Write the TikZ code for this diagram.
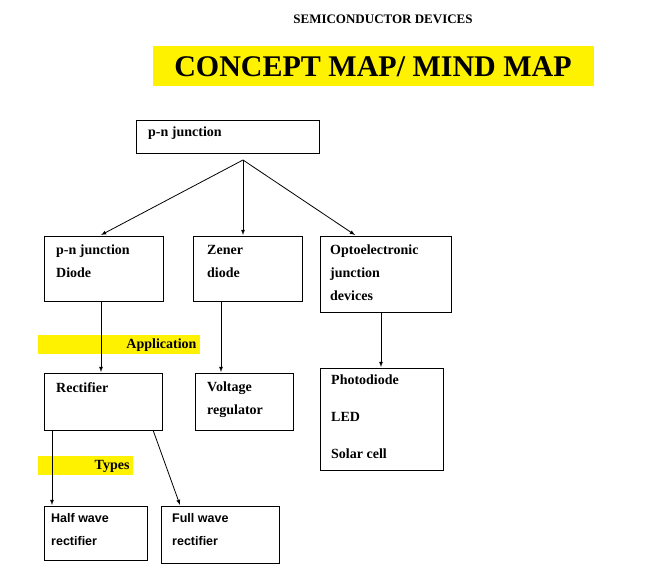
\documentclass[tikz,border=0pt]{standalone}
\usepackage{fontspec}
\setmainfont{Liberation Serif}
\newfontfamily\sansf{Liberation Sans}
\begin{document}
\begin{tikzpicture}[x=1pt,y=-1pt,
 bx/.style={draw,line width=0.8pt},
 tx/.style={anchor=north west,align=left,font=\fontsize{14}{23}\selectfont\bfseries,inner sep=0pt},
 arr/.style={-latex,line width=0.8pt},
 hl/.style={fill=yellow,draw=none}]
\useasboundingbox (0,0) rectangle (665,585);
\node[font=\fontsize{13}{15}\selectfont\bfseries] (t1) at (383,19) {SEMICONDUCTOR DEVICES};
\fill[hl] (153,46) rectangle (594,86);
\node[font=\fontsize{30}{32}\selectfont\bfseries] (t2) at (373,67) {CONCEPT MAP/ MIND MAP};
% boxes
\draw[bx] (136,120) rectangle (319,153);
\node[tx] (pn) at (148,127) {p-n junction};
\coordinate (fork) at (243,160);
\draw[bx] (44,236) rectangle (163,301);
\node[tx] (d) at (56,245) {p-n junction\\Diode};
\draw[bx] (193,236) rectangle (302,301);
\node[tx] (z) at (207,245) {Zener\\diode};
\draw[bx] (320,236) rectangle (451,312);
\node[tx] (o) at (330,245) {Optoelectronic\\junction\\devices};
\coordinate (dT) at (101,235); \coordinate (zT) at (243,235); \coordinate (oT) at (355,235);
\draw[arr] (fork) -- (dT); \draw[arr] (fork) -- (zT); \draw[arr] (fork) -- (oT);
% second row
\fill[hl] (38,335) rectangle (200,354);
\node[font=\fontsize{14}{16}\selectfont\bfseries,anchor=east] (app) at (200,345) {Application};
\draw[bx] (44,373) rectangle (162,430);
\node[tx] (r) at (56,382) {Rectifier};
\draw[bx] (195,373) rectangle (293,430);
\node[tx] (v) at (207,382) {Voltage\\regulator};
\draw[bx] (320,368) rectangle (443,470);
\node[tx,font=\fontsize{14}{37}\selectfont\bfseries] (p) at (331,375) {Photodiode\\LED\\Solar cell};
\draw[arr] (101,301) coordinate (dB) -- (101,372) coordinate (rT);
\draw[arr] (221,301) coordinate (zB) -- (221,372) coordinate (vT);
\draw[arr] (381,312) coordinate (oB) -- (381,367) coordinate (pT);
% third row
\fill[hl] (38,456) rectangle (133,475);
\node[font=\fontsize{14}{16}\selectfont\bfseries,anchor=east] (ty) at (133,466) {Types};
\draw[bx] (44,506) rectangle (147,560);
\node[tx,font=\sansf\fontsize{12.5}{23}\selectfont\bfseries] (h) at (51,513) {Half wave\\rectifier};
\draw[bx] (161,506) rectangle (279,563);
\node[tx,font=\sansf\fontsize{12.5}{23}\selectfont\bfseries] (f) at (172,513) {Full wave\\rectifier};
\draw[arr] (52,430) coordinate (r1) -- (52,505) coordinate (hT);
\draw[arr] (153,430) coordinate (r2) -- (180,505) coordinate (fT);
\end{tikzpicture}
\end{document}
